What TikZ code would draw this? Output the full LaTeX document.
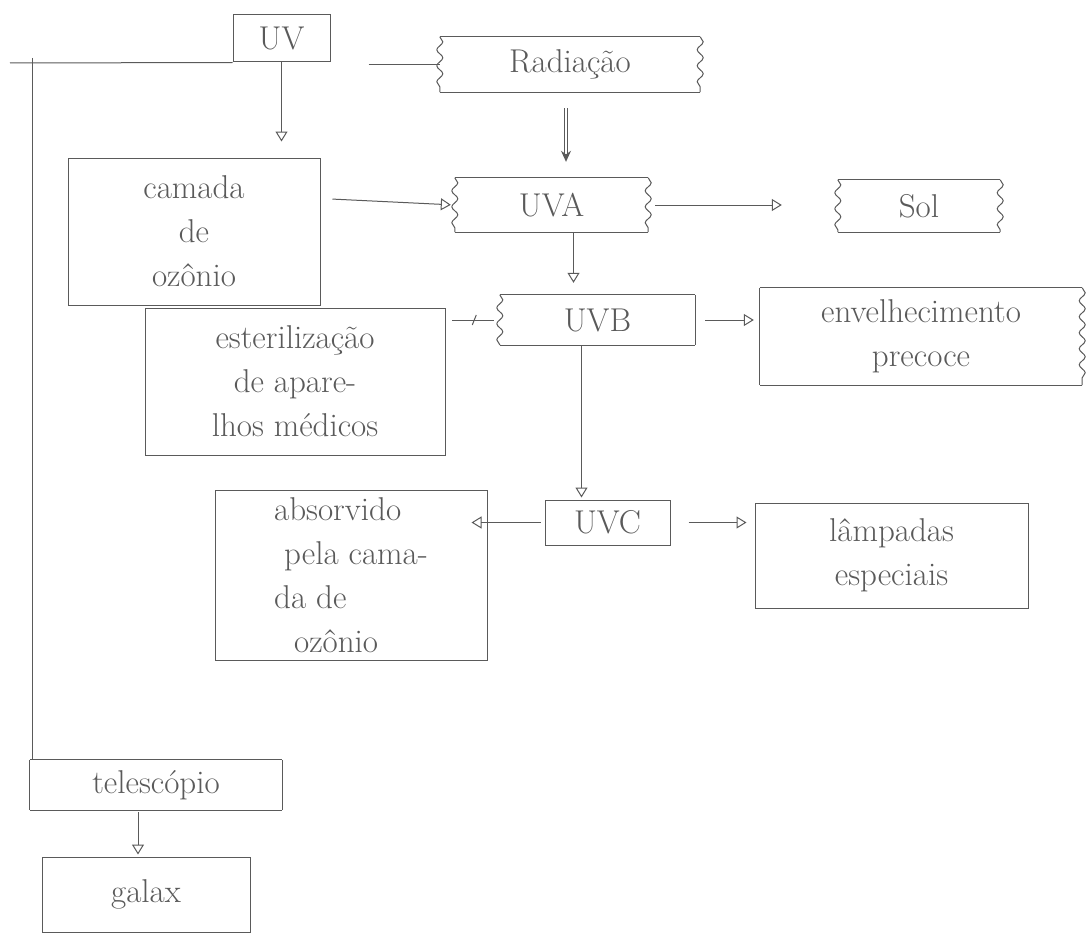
\documentclass[tikz,border=0pt]{standalone}
\usepackage{fontspec}
\usetikzlibrary{arrows.meta,decorations.pathmorphing,calc}
\definecolor{pencil}{RGB}{90,90,90}
\tikzset{
  pen/.style={draw=pencil, line width=1pt},
  lbl/.style={text=pencil, font=\fontsize{33}{44}\selectfont, align=center, inner sep=0pt},
  boxed/.style={lbl, pen},
  bare/.style={lbl},
  arr/.style={pen, -{Triangle[open, length=10pt, width=12pt]}},
  arrdbl/.style={pen, double=white, double distance=1.2pt, -{Stealth[length=11pt, width=10pt]}},
  wavy/.style={pen, decorate, decoration={snake, amplitude=3pt, segment length=16pt}},
}
\newcommand\wavysides[3]{%
  \draw[pen] (#1.north west) -- (#1.north east);
  \draw[pen] (#1.south west) -- (#1.south east);
  \draw[#2] (#1.north west) -- (#1.south west);
  \draw[#3] (#1.north east) -- (#1.south east);}
\begin{document}
\begin{tikzpicture}[x=1pt, y=-1pt]
\useasboundingbox (0,0) rectangle (1092,934);
\fill[white] (0,0) rectangle (1092,934);

% concept boxes
\node[boxed, minimum width=97, minimum height=47] (uv) at (281.5,38.5) {UV};
\node[bare, minimum width=260, minimum height=55] (rad) at (570,64.5) {Radiação};
\node[boxed, minimum width=252, minimum height=147] (cam) at (194,231.5) {camada\\de\\ozônio};
\node[bare, minimum width=193, minimum height=54] (uva) at (551.5,205) {UVA};
\node[bare, minimum width=162, minimum height=52] (sol) at (919,206) {Sol};
\node[bare, minimum width=195, minimum height=50] (uvb) at (597.5,320) {UVB};
\node[boxed, minimum width=300, minimum height=147] (est) at (295,381.5) {esterilização\\de apare-\\lhos médicos};
\node[bare, minimum width=322, minimum height=97] (env) at (921,336.5) {envelhecimento\\precoce};
\node[boxed, minimum width=125, minimum height=45] (uvc) at (607.5,522.5) {UVC};
\node[boxed, minimum width=272, minimum height=170, align=left] (abs) at (351,575) {absorvido\\\ pela cama-\\da de\\\ \ ozônio};
\node[boxed, minimum width=273, minimum height=105] (lam) at (891.5,555.5) {lâmpadas\\especiais};
\node[bare, minimum width=252, minimum height=50] (tel) at (156,785) {telescópio};
\node[boxed, minimum width=208, minimum height=75] (gal) at (146,894.5) {galax};

% boxes with wavy sides
\wavysides{rad}{wavy}{wavy}
\wavysides{uva}{wavy}{wavy}
\wavysides{sol}{wavy}{wavy}
\wavysides{uvb}{wavy}{pen}
\wavysides{env}{pen}{wavy}
\wavysides{tel}{pen}{pen}

% frame line from UV down the left side to the telescope
\coordinate (hl) at (10,63);
\coordinate (vt) at (32,58);
\draw[pen] (hl) -- (uv.south west);
\draw[pen] (vt) -- (vt |- tel.north);

% connectors
\draw[arr, shorten >=16pt] (uv.south) -- (uv.south |- cam.north);
\draw[pen, shorten <=38pt] (rad.west -| uv.east) -- (rad.west);
\draw[arrdbl, shorten <=16pt, shorten >=16pt] ([xshift=-4pt]rad.south) -- ([xshift=-4pt]rad.south |- uva.north);
\draw[arr, shorten <=12pt, shorten >=4pt] ([yshift=33pt]cam.east) -- (uva.west);
\draw[arr, shorten <=7pt, shorten >=56pt] (uva.east) -- (uva.east -| sol.west);
\draw[arr, shorten >=12pt] ([xshift=22pt]uva.south) -- ([xshift=22pt]uva.south |- uvb.north);
\draw[pen, shorten <=6pt, shorten >=6pt] (uvb.west) -- (uvb.west -| est.east);
\path (uvb.west) -- coordinate[pos=0.47] (tk) (uvb.west -| est.east);
\draw[pen] ([shift={(-2,5)}]tk) -- ([shift={(2,-5)}]tk);
\draw[arr, shorten <=10pt, shorten >=6pt] (uvb.east) -- (uvb.east -| env.west);
\draw[arr, shorten >=2pt] ([xshift=-16pt]uvb.south) -- ([xshift=-16pt]uvb.south |- uvc.north);
\draw[arr, shorten <=4pt, shorten >=-16pt] (uvc.west) -- (uvc.west -| abs.east);
\draw[arr, shorten <=18pt, shorten >=8pt] (uvc.east) -- (uvc.east -| lam.west);
\draw[arr, shorten <=2pt, shorten >=2pt] ([xshift=-18pt]tel.south) -- ([xshift=-18pt]tel.south |- gal.north);
\end{tikzpicture}
\end{document}
